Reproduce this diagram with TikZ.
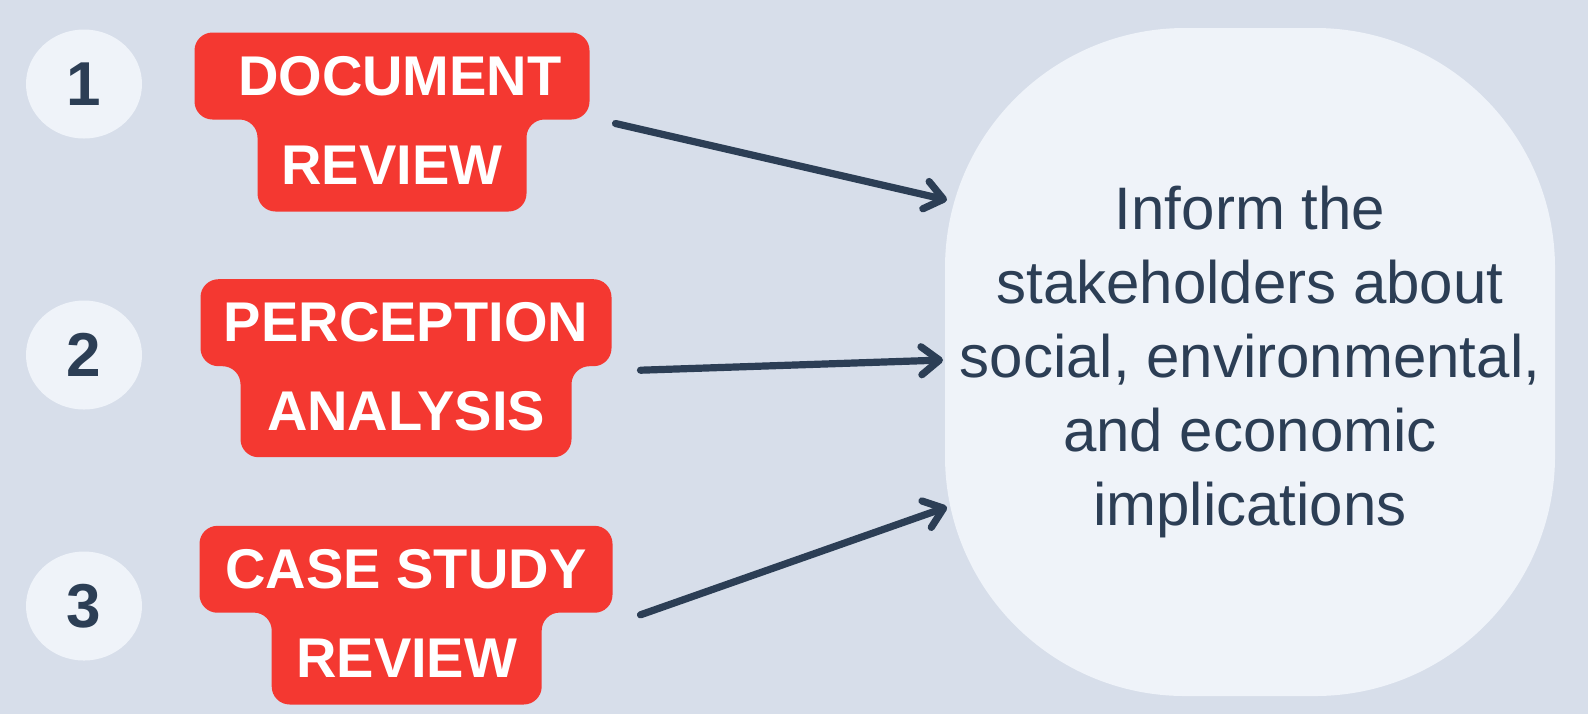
\documentclass[tikz,border=0pt]{standalone}
\usepackage{fontspec}
\setmainfont{Liberation Sans}
\usetikzlibrary{arrows.meta,positioning,calc,shapes.geometric,backgrounds}

\definecolor{pagebg}{HTML}{D7DEEA}
\definecolor{paleblue}{HTML}{EFF3F9}
\definecolor{tagred}{HTML}{F43831}
\definecolor{navy}{HTML}{2C3E55}

\tikzset{
  numdot/.style={ellipse, fill=paleblue, text=navy, inner sep=0pt, outer sep=0pt,
    minimum width=58pt, minimum height=54.5pt, font=\fontsize{31pt}{33pt}\selectfont\bfseries},
  tagpart/.style={inner sep=0pt, outer sep=0pt, text=white,
    font=\fontsize{28pt}{30pt}\selectfont\bfseries},
  tagfill/.style={fill=tagred, rounded corners=9pt},
  goalbox/.style={fill=paleblue, text=navy, rounded corners=120pt, align=center,
    minimum width=305pt, minimum height=334pt, inner sep=0pt, outer sep=0pt,
    font=\fontsize{30pt}{37pt}\selectfont},
  link/.style={draw=navy, line width=3.6pt, line cap=round,
    -{Straight Barb[length=9pt,width=14pt,round]}},
}

\begin{document}
\begin{tikzpicture}[x=0.5pt, y=-0.5pt]
    \useasboundingbox (0,0) rectangle (1588,714);

    % Numbered discs
    \foreach \i/\y in {1/84, 2/355, 3/606} {
        \node[numdot] (n\i) at (84,\y) {\i};
    }

    % Tag 1
    \node[tagpart, minimum width=197.5pt, minimum height=43.5pt] (doc1) at (392,76) {\hspace*{.28em}DOCUMENT};
    \node[tagpart, minimum width=134.5pt, minimum height=46pt] (doc2) at (392,165.5) {REVIEW};

    % Tag 2
    \node[tagpart, minimum width=205.5pt, minimum height=43.5pt] (perc1) at (406,322.7) {PERCEPTION};
    \node[tagpart, minimum width=165.5pt, minimum height=45.5pt] (perc2) at (406,411.7) {ANALYSIS};

    % Tag 3
    \node[tagpart, minimum width=206.5pt, minimum height=43.5pt] (case1) at (406,569.3) {CASE STUDY};
    \node[tagpart, minimum width=135pt, minimum height=46pt] (case2) at (406.7,658.5) {REVIEW};

    % Outcome
    \node[goalbox] (goal) at (1250,362) {Inform the\\stakeholders about\\social, environmental,\\and economic\\implications};

    % Page and tag backgrounds
    \begin{scope}[on background layer]
        \fill[pagebg] (0,0) rectangle (1588,714);
        \foreach \t in {doc, perc, case} {
            \fill[tagfill] (\t1.north west) -- (\t1.north east) -- (\t1.south east)
                -- (\t2.north east) -- (\t2.south east) -- (\t2.south west)
                -- (\t2.north west) -- (\t1.south west) -- cycle;
        }
    \end{scope}

    % Arrows
    \coordinate (a1) at ($(doc1.south east)+(26,4)$);
    \coordinate (a2) at ($(perc1.south east)+(29,4)$);
    \coordinate (a3) at ($(case1.south east)+(28,2)$);
    \coordinate (b1) at ($(goal.west)+(2,-162)$);
    \coordinate (b2) at ($(goal.west)+(-2,-2)$);
    \coordinate (b3) at ($(goal.west)+(2,145)$);
    \foreach \k in {1,2,3} {
        \draw[link] (a\k) -- (b\k);
    }
\end{tikzpicture}
\end{document}
